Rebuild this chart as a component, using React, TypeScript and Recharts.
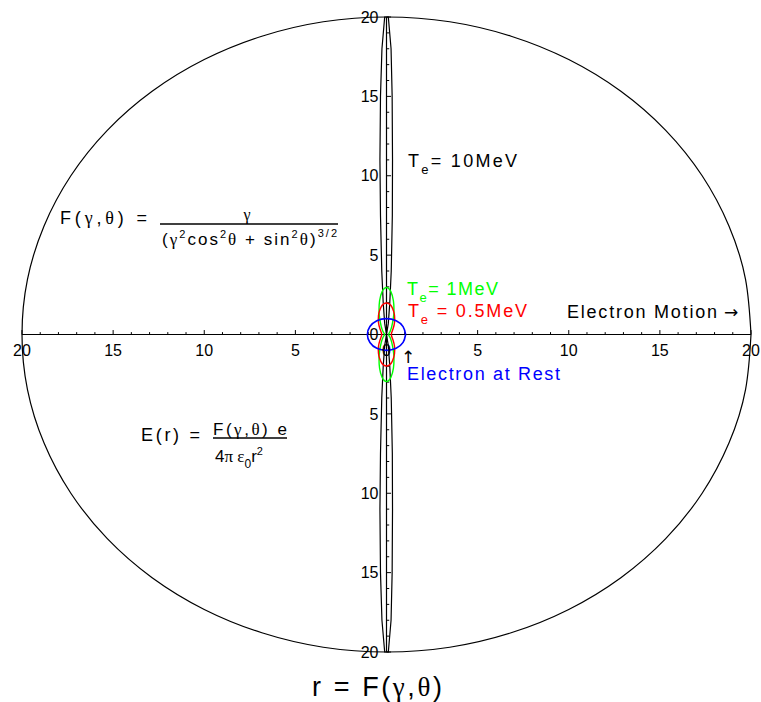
import React from "react";
import { LineChart, Line, XAxis, YAxis, ReferenceLine, ReferenceDot, Customized } from "recharts";

// r = F(gamma, theta), polar curves (x along electron motion)
const outerCircle: number[][] = [
  [20, 0], [19.7, 3.47], [18.79, 6.84], [17.32, 10], [15.32, 12.86], [12.86, 15.32], [10, 17.32], [6.84, 18.79], [3.47, 19.7],
  [0, 20], [-3.47, 19.7], [-6.84, 18.79], [-10, 17.32], [-12.86, 15.32], [-15.32, 12.86], [-17.32, 10], [-18.79, 6.84], [-19.7, 3.47],
  [-20, 0], [-19.7, -3.47], [-18.79, -6.84], [-17.32, -10], [-15.32, -12.86], [-12.86, -15.32], [-10, -17.32], [-6.84, -18.79], [-3.47, -19.7],
  [0, -20], [3.47, -19.7], [6.84, -18.79], [10, -17.32], [12.86, -15.32], [15.32, -12.86], [17.32, -10], [18.79, -6.84], [19.7, -3.47], [20, 0],
];

// Te = 10MeV
const curve10MeV: number[][] = [
  [0, 0], [0.1, 0.7], [0.18, 2], [0.26, 4], [0.32, 7.5], [0.33, 11], [0.31, 15], [0.25, 18], [0.1, 20],
  [-0.1, 20], [-0.25, 18], [-0.33, 15], [-0.36, 11], [-0.33, 7.5], [-0.26, 4], [-0.18, 2], [-0.1, 0.7], [0, 0],
  [-0.1, -0.7], [-0.18, -2], [-0.26, -4], [-0.33, -7.5], [-0.36, -11], [-0.33, -15], [-0.25, -18], [-0.1, -20],
  [0.1, -20], [0.25, -18], [0.31, -15], [0.33, -11], [0.32, -7.5], [0.26, -4], [0.18, -2], [0.1, -0.7], [0, 0],
];

// Te = 1MeV
const curve1MeV: number[][] = [
  [0.11, 0], [0.14, 0.08], [0.2, 0.2], [0.29, 0.51], [0.38, 1.06], [0.41, 1.53], [0.38, 2.12], [0.24, 2.7], [0, 2.96],
  [-0.24, 2.7], [-0.38, 2.12], [-0.41, 1.53], [-0.38, 1.06], [-0.29, 0.51], [-0.2, 0.2], [-0.14, 0.08], [-0.11, 0],
  [-0.14, -0.08], [-0.2, -0.2], [-0.29, -0.51], [-0.38, -1.06], [-0.41, -1.53], [-0.38, -2.12], [-0.24, -2.7], [0, -2.96],
  [0.24, -2.7], [0.38, -2.12], [0.41, -1.53], [0.38, -1.06], [0.29, -0.51], [0.2, -0.2], [0.14, -0.08], [0.11, 0],
];

// Te = 0.5MeV
const curveHalfMeV: number[][] = [
  [0.26, 0], [0.3, 0.17], [0.36, 0.36], [0.44, 0.75], [0.44, 1.2], [0.39, 1.46], [0.3, 1.72], [0.17, 1.91], [0, 1.98],
  [-0.17, 1.91], [-0.3, 1.72], [-0.39, 1.46], [-0.44, 1.2], [-0.44, 0.75], [-0.36, 0.36], [-0.3, 0.17], [-0.26, 0],
  [-0.3, -0.17], [-0.36, -0.36], [-0.44, -0.75], [-0.44, -1.2], [-0.39, -1.46], [-0.3, -1.72], [-0.17, -1.91], [0, -1.98],
  [0.17, -1.91], [0.3, -1.72], [0.39, -1.46], [0.44, -1.2], [0.44, -0.75], [0.36, -0.36], [0.3, -0.17], [0.26, 0],
];

// electron at rest
const curveRest: number[][] = [
  [1.05, 0], [0.91, 0.5], [0.53, 0.87], [0, 1], [-0.53, 0.87], [-0.91, 0.5], [-1.05, 0],
  [-0.91, -0.5], [-0.53, -0.87], [0, -1], [0.53, -0.87], [0.91, -0.5], [1.05, 0],
];

const majorTicks = [-20, -15, -10, -5, 0, 5, 10, 15, 20];
const minorTicks = Array.from({ length: 41 }, (_, i) => i - 20).filter((v) => v % 5 !== 0);

const pts = (arr: number[][]) => arr.map(([x, y]) => ({ x, y }));

const SANS = "'Liberation Sans', Arial, Helvetica, sans-serif";
const SERIF = "'Liberation Serif', 'Times New Roman', serif";
const ARROW = "'DejaVu Sans', sans-serif";

function Annotations() {
  return (
    <g fontFamily={SANS} fill="#000">
      {/* F(gamma, theta) formula */}
      <text x={60} y={224} fontSize={18} textLength={87} lengthAdjust="spacing">
        F(<tspan fontFamily={SERIF}>γ</tspan>,<tspan fontFamily={SERIF}>θ</tspan>) =
      </text>
      <line x1={160} x2={338} y1={224} y2={224} stroke="#000" strokeWidth={1.5} />
      <text x={247} y={220} fontSize={16} fontFamily={SERIF} textAnchor="middle">γ</text>
      <text x={162} y={245} fontSize={17} textLength={175} lengthAdjust="spacing">
        (<tspan fontFamily={SERIF}>γ</tspan>
        <tspan dy={-7} fontSize={11}>2</tspan>
        <tspan dy={7}>cos</tspan>
        <tspan dy={-7} fontSize={11}>2</tspan>
        <tspan dy={7} fontFamily={SERIF}>θ</tspan>
        <tspan> + sin</tspan>
        <tspan dy={-7} fontSize={11}>2</tspan>
        <tspan dy={7} fontFamily={SERIF}>θ</tspan>
        <tspan>)</tspan>
        <tspan dy={-8} fontSize={11}>3/2</tspan>
      </text>

      {/* E(r) formula */}
      <text x={141} y={441} fontSize={18} textLength={59} lengthAdjust="spacing">E(r) =</text>
      <text x={213} y={435} fontSize={17} textLength={74} lengthAdjust="spacing">
        F(<tspan fontFamily={SERIF}>γ</tspan>,<tspan fontFamily={SERIF}>θ</tspan>) e
      </text>
      <line x1={213} x2={287} y1={438} y2={438} stroke="#000" strokeWidth={1.5} />
      <text x={215} y={462} fontSize={17}>
        4<tspan fontFamily={SERIF}>π ε</tspan>
        <tspan dy={6} fontSize={12}>0</tspan>
        <tspan dy={-6}>r</tspan>
        <tspan dy={-7} fontSize={11}>2</tspan>
      </text>

      {/* curve labels */}
      <text x={408} y={167} fontSize={18} textLength={109} lengthAdjust="spacing">
        T<tspan dy={7} fontSize={13}>e</tspan>
        <tspan dy={-7}>= 10MeV</tspan>
      </text>
      <text x={407} y={295} fontSize={18} fill="#00ff00" textLength={91} lengthAdjust="spacing">
        T<tspan dy={7} fontSize={13}>e</tspan>
        <tspan dy={-7}>= 1MeV</tspan>
      </text>
      <text x={408} y={317} fontSize={18} fill="#ff0000" textLength={119} lengthAdjust="spacing">
        T<tspan dy={7} fontSize={13}>e</tspan>
        <tspan dy={-7}> = 0.5MeV</tspan>
      </text>
      <text x={567} y={318} fontSize={18} textLength={150} lengthAdjust="spacing">Electron Motion</text>
      <text x={724} y={318} fontSize={17} fontFamily={ARROW}>→</text>
      <text x={408} y={363} fontSize={17} fontFamily={ARROW} textAnchor="middle">↑</text>
      <text x={407} y={380} fontSize={18} fill="#0000ff" textLength={153} lengthAdjust="spacing">Electron at Rest</text>

      {/* title */}
      <text x={312} y={696} fontSize={27} textLength={130} lengthAdjust="spacing">
        r = F(<tspan fontFamily={SERIF}>γ</tspan>,<tspan fontFamily={SERIF}>θ</tspan>)
      </text>
    </g>
  );
}

export default function App() {
  return (
    <div style={{ position: "absolute", left: 0, top: 0, background: "#fff" }}>
      <LineChart width={761} height={702} margin={{ top: 17, right: 10, bottom: 50, left: 22 }}>
        <XAxis type="number" dataKey="x" domain={[-20, 20]} hide />
        <YAxis type="number" dataKey="y" domain={[-20, 20]} hide />

        <ReferenceLine y={0} stroke="#000" strokeWidth={1.2} />
        <ReferenceLine x={0} stroke="#000" strokeWidth={1.2} />
        {minorTicks.map((v) => (
          <ReferenceLine key={`xm${v}`} segment={[{ x: v, y: 0 }, { x: v, y: 0.15 }]} stroke="#000" />
        ))}
        {majorTicks.map((v) => (
          <ReferenceLine key={`xM${v}`} segment={[{ x: v, y: 0 }, { x: v, y: 0.28 }]} stroke="#000" />
        ))}
        {minorTicks.map((v) => (
          <ReferenceLine key={`ym${v}`} segment={[{ x: 0, y: v }, { x: 0.15, y: v }]} stroke="#000" />
        ))}
        {majorTicks.map((v) => (
          <ReferenceLine key={`yM${v}`} segment={[{ x: 0, y: v }, { x: 0.25, y: v }]} stroke="#000" />
        ))}
        {majorTicks.map((v) => (
          <ReferenceDot key={`xl${v}`} x={v} y={0} r={0} stroke="none" fill="none"
            label={{ value: String(Math.abs(v)), position: "bottom", offset: 10, fill: "#000", fontSize: 16, fontFamily: SANS }} />
        ))}
        {majorTicks.map((v) => (
          <ReferenceDot key={`yl${v}`} x={0} y={v} r={0} stroke="none" fill="none"
            label={{ value: String(Math.abs(v)), position: "left", offset: 8, fill: "#000", fontSize: 16, fontFamily: SANS }} />
        ))}

        <Line data={pts(outerCircle)} dataKey="y" type="natural" dot={false} stroke="#000" strokeWidth={1.2} isAnimationActive={false} />
        <Line data={pts(curve10MeV)} dataKey="y" type="linear" dot={false} stroke="#000" strokeWidth={1.2} isAnimationActive={false} />
        <Line data={pts(curve1MeV)} dataKey="y" type="natural" dot={false} stroke="#00ff00" strokeWidth={1.4} isAnimationActive={false} />
        <Line data={pts(curveHalfMeV)} dataKey="y" type="natural" dot={false} stroke="#ff0000" strokeWidth={1.4} isAnimationActive={false} />
        <Line data={pts(curveRest)} dataKey="y" type="natural" dot={false} stroke="#0000ff" strokeWidth={1.6} isAnimationActive={false} />

        <Customized component={Annotations} />
      </LineChart>
    </div>
  );
}
